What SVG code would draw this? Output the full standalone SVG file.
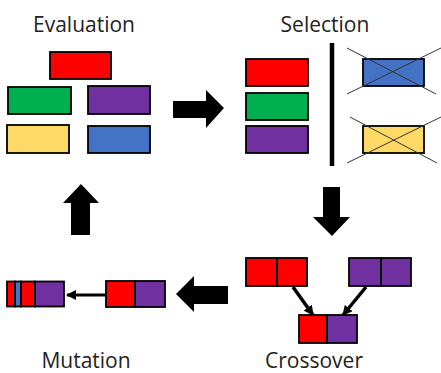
<svg xmlns="http://www.w3.org/2000/svg" width="441" height="373" viewBox="0 0 441 373">
<style>
.g rect{stroke:#000;stroke-width:1.8}
.r{fill:#FF0000}.gr{fill:#00B050}.p{fill:#7030A0}.y{fill:#FFD966}.b{fill:#4472C4}
.lbl{font-family:"Open Sans","Noto Sans",sans-serif;font-size:21px;fill:#222;text-anchor:middle}
.x{stroke:#333;stroke-width:1}
.big{fill:#000}
</style>
<defs>
<marker id="ah" markerWidth="10" markerHeight="10" refX="9" refY="5" orient="auto" markerUnits="userSpaceOnUse" viewBox="0 0 10 10">
<path d="M0,0 L10,5 L0,10 z" fill="#000"/>
</marker>
</defs>
<g id="evaluation" class="g">
<text class="lbl" x="84" y="32">Evaluation</text>
<rect class="r" x="50" y="52" width="61" height="27"/>
<rect class="gr" x="8" y="87" width="63" height="27"/>
<rect class="p" x="88" y="86" width="62" height="28"/>
<rect class="y" x="7" y="125" width="62" height="28"/>
<rect class="b" x="88" y="126" width="62" height="27"/>
</g>
<g id="selection" class="g">
<text class="lbl" x="325" y="32">Selection</text>
<rect class="r" x="246" y="59" width="62" height="27"/>
<rect class="gr" x="246" y="93" width="62" height="27"/>
<rect class="p" x="246" y="126" width="62" height="27"/>
<line x1="332" y1="43" x2="332" y2="166" stroke="#000" stroke-width="4.5"/>
<rect class="b" x="363" y="59" width="61" height="27"/>
<line class="x" x1="347" y1="48" x2="436" y2="94"/>
<line class="x" x1="347" y1="94" x2="441" y2="48"/>
<rect class="y" x="363" y="126" width="61" height="27"/>
<line class="x" x1="350" y1="117" x2="437" y2="163"/>
<line class="x" x1="347" y1="163" x2="441" y2="117"/>
</g>
<g id="crossover" class="g">
<rect class="r" x="246" y="258" width="31" height="28"/>
<rect class="r" x="277" y="258" width="30" height="28"/>
<rect class="p" x="349" y="258" width="32" height="28"/>
<rect class="p" x="381" y="258" width="30" height="28"/>
<rect class="r" x="299" y="315" width="28" height="28"/>
<rect class="p" x="327" y="315" width="30" height="28"/>
<text class="lbl" x="314" y="368">Crossover</text>
</g>
<g id="mutation" class="g">
<rect class="r" x="7" y="281.5" width="8" height="25"/>
<rect class="b" x="15" y="281.5" width="6" height="25"/>
<rect class="r" x="21" y="281.5" width="14" height="25"/>
<rect class="p" x="35" y="281.5" width="29" height="25"/>
<rect class="r" x="106" y="281" width="29" height="26"/>
<rect class="p" x="135" y="281" width="30" height="26"/>
<text class="lbl" x="86" y="368">Mutation</text>
</g>
<g id="connectors">
<polygon class="big" points="173,101 206,101 206,90 224,108 206,128 206,118 173,118"/>
<polygon class="big" points="323,187 340,187 340,217 350,217 332,236 313,217 323,217"/>
<polygon class="big" points="228,286 194,286 194,276 176,294 194,312 194,304 228,304"/>
<polygon class="big" points="71,235 90,235 90,203 99,203 81,184 63,203 71,203"/>
<line x1="106" y1="295" x2="67" y2="295" stroke="#000" stroke-width="3" marker-end="url(#ah)"/>
<line x1="293" y1="287" x2="313" y2="315" stroke="#000" stroke-width="3.5" marker-end="url(#ah)"/>
<line x1="366" y1="287" x2="343" y2="315" stroke="#000" stroke-width="3.5" marker-end="url(#ah)"/>
</g>
</svg>
